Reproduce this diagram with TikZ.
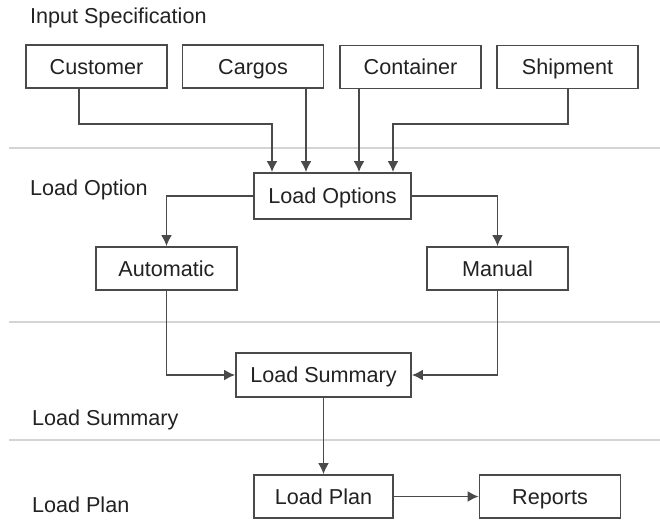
\documentclass[tikz,border=0pt]{standalone}
\usepackage{fontspec}
\setmainfont{Liberation Sans}
\usetikzlibrary{arrows.meta}
\definecolor{boxline}{HTML}{4A4A4A}
\definecolor{sepline}{HTML}{D4D4D4}
\definecolor{ink}{HTML}{222222}

\begin{document}
\begin{tikzpicture}[x=0.5pt,y=-0.5pt,
   box/.style={draw=boxline,line width=0.9pt,fill=white,text=ink,
               minimum width=70.5pt,minimum height=21.5pt,inner sep=0pt,
               text height=7.7pt,text depth=0pt},
   arr/.style={draw=boxline,line width=0.9pt,-{Latex[length=5.5pt,width=5.5pt]}},
   sep/.style={draw=sepline,line width=0.8pt},
   lane/.style={anchor=base west,text=ink},
   font=\fontsize{10.8}{13}\selectfont]
   \useasboundingbox (0,0) rectangle (660,520);
   % lane separators
   \draw[sep] (9,148) -- (660,148);
   \draw[sep] (9,322) -- (660,322);
   \draw[sep] (9,440) -- (660,440);
   % lane titles
   \node[lane] (tin)  at (23,23)  {Input Specification};
   \node[lane] (topt) at (23,195) {Load Option};
   \node[lane] (tsum) at (25,425) {Load Summary};
   \node[lane] (tpl)  at (25,512) {Load Plan};
   % boxes
   \node[box] (cust)  at (96.5,66.5)  {Customer};
   \node[box] (cargo) at (253,66.5)   {Cargos};
   \node[box] (cont)  at (410.5,67)   {Container};
   \node[box] (ship)  at (567.5,67)   {Shipment};
   \node[box,minimum width=78.5pt,minimum height=23pt] (opt) at (332.5,196) {Load Options};
   \node[box] (auto)  at (166.5,268.5) {Automatic};
   \node[box] (man)   at (497.5,268.5) {Manual};
   \node[box,minimum width=87.5pt,minimum height=22pt] (sum) at (323.5,375) {Load Summary};
   \node[box,minimum width=69.5pt] (plan) at (323.5,496.5) {Load Plan};
   \node[box] (rep)   at (550,496.5)  {Reports};
   % taps on the input boxes
   \coordinate (c1) at (79,124);
   \coordinate (c2) at (272,124);
   \coordinate (c3) at (306,124);
   \coordinate (c4) at (359,124);
   \coordinate (c5) at (568,124);
   \coordinate (c6) at (393,124);
   \draw[arr] (cust.south -| c1) -- (c1) -- (c2) -- (opt.north -| c2);
   \draw[arr] (cargo.south -| c3) -- (opt.north -| c3);
   \draw[arr] (cont.south -| c4) -- (opt.north -| c4);
   \draw[arr] (ship.south -| c5) -- (c5) -- (c6) -- (opt.north -| c6);
   % options and summary
   \draw[arr] (opt.west) -| (auto.north);
   \draw[arr] (opt.east) -| (man.north);
   \draw[arr] (auto.south) |- (sum.west);
   \draw[arr] (man.south) |- (sum.east);
   \draw[arr] (sum.south) -- (plan.north);
   \draw[arr] (plan.east) -- (rep.west);
\end{tikzpicture}
\end{document}
